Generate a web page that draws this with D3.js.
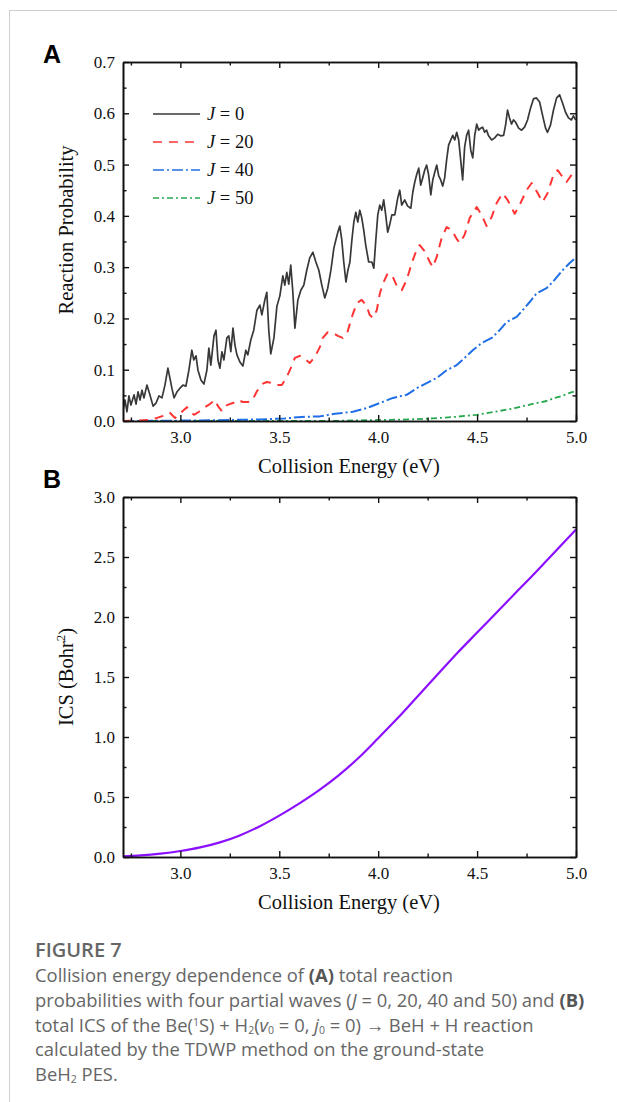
<!DOCTYPE html>
<html>
<head>
<meta charset="utf-8">
<script src="https://cdn.jsdelivr.net/npm/d3@7"></script>
<style>
  body { margin: 0; background: #fff; }
  svg { display: block; }
  .tick text { font-family: "Liberation Serif", "Times New Roman", serif; font-size: 17px; fill: #111; }
  .ax path, .ax line { stroke: #111; }
  .ttl { font-family: "Liberation Serif", "Times New Roman", serif; font-size: 20.5px; fill: #111; }
  .cap { font-family: "Open Sans", "Noto Sans", sans-serif; font-size: 18.4px; fill: #666; }
</style>
</head>
<body>
<script>
// ---- data ----
var xMajor = [3.0, 3.5, 4.0, 4.5, 5.0];
var xMinor = [2.75, 3.25, 3.75, 4.25, 4.75];
var yMajorA = [0, 0.1, 0.2, 0.3, 0.4, 0.5, 0.6, 0.7];
var yMinorA = [0.05, 0.15, 0.25, 0.35, 0.45, 0.55, 0.65];
var yMajorB = [0, 0.5, 1.0, 1.5, 2.0, 2.5, 3.0];
var yMinorB = [0.25, 0.75, 1.25, 1.75, 2.25, 2.75];
var legendLabels = ["0", "20", "40", "50"];

// J = 0
var probJ0 = [
 [2.710,0.021],[2.720,0.041],[2.730,0.018],[2.740,0.049],[2.750,0.031],[2.766,0.051],[2.776,0.033],
 [2.786,0.057],[2.796,0.041],[2.806,0.060],[2.816,0.045],[2.831,0.070],[2.846,0.051],[2.862,0.029],
 [2.877,0.035],[2.892,0.049],[2.907,0.045],[2.922,0.070],[2.937,0.103],[2.947,0.084],[2.957,0.064],
 [2.968,0.045],[2.983,0.057],[2.998,0.064],[3.013,0.070],[3.028,0.068],[3.043,0.099],[3.058,0.138],
 [3.068,0.119],[3.079,0.127],[3.089,0.099],[3.104,0.080],[3.119,0.072],[3.134,0.099],[3.144,0.142],
 [3.154,0.109],[3.170,0.166],[3.180,0.177],[3.190,0.119],[3.200,0.103],[3.210,0.135],[3.220,0.119],
 [3.235,0.162],[3.245,0.166],[3.255,0.135],[3.266,0.181],[3.276,0.148],[3.286,0.129],[3.301,0.115],
 [3.316,0.107],[3.331,0.138],[3.341,0.129],[3.356,0.158],[3.371,0.177],[3.387,0.216],[3.402,0.226],
 [3.412,0.207],[3.427,0.236],[3.437,0.251],[3.447,0.177],[3.457,0.131],[3.473,0.162],[3.488,0.224],
 [3.503,0.244],[3.518,0.283],[3.528,0.265],[3.538,0.290],[3.548,0.267],[3.558,0.304],[3.568,0.255],
 [3.579,0.181],[3.594,0.236],[3.609,0.255],[3.624,0.265],[3.639,0.294],[3.654,0.318],[3.670,0.329],
 [3.685,0.310],[3.700,0.294],[3.715,0.265],[3.730,0.240],[3.745,0.259],[3.761,0.294],[3.776,0.337],
 [3.786,0.353],[3.796,0.368],[3.806,0.380],[3.816,0.353],[3.826,0.310],[3.837,0.271],[3.847,0.294],
 [3.857,0.310],[3.867,0.353],[3.877,0.388],[3.887,0.407],[3.897,0.388],[3.907,0.411],[3.917,0.396],
 [3.927,0.372],[3.937,0.343],[3.952,0.310],[3.968,0.310],[3.978,0.298],[3.988,0.353],[3.998,0.402],
 [4.008,0.421],[4.018,0.411],[4.028,0.431],[4.038,0.402],[4.048,0.368],[4.058,0.382],[4.069,0.402],
 [4.084,0.402],[4.099,0.435],[4.109,0.450],[4.119,0.421],[4.134,0.431],[4.149,0.419],[4.165,0.415],
 [4.175,0.446],[4.185,0.466],[4.195,0.481],[4.205,0.493],[4.215,0.460],[4.225,0.474],[4.235,0.489],
 [4.245,0.499],[4.255,0.480],[4.266,0.441],[4.276,0.470],[4.286,0.485],[4.296,0.499],[4.306,0.478],
 [4.316,0.470],[4.326,0.458],[4.336,0.474],[4.346,0.509],[4.356,0.538],[4.367,0.548],[4.377,0.557],
 [4.387,0.548],[4.397,0.563],[4.407,0.548],[4.417,0.509],[4.427,0.470],[4.437,0.534],[4.447,0.557],
 [4.457,0.567],[4.468,0.528],[4.478,0.513],[4.488,0.557],[4.498,0.579],[4.508,0.567],[4.518,0.571],
 [4.528,0.573],[4.538,0.563],[4.548,0.567],[4.558,0.556],[4.574,0.548],[4.589,0.552],[4.604,0.559],
 [4.619,0.556],[4.634,0.557],[4.644,0.577],[4.654,0.606],[4.664,0.591],[4.674,0.579],[4.684,0.587],
 [4.694,0.583],[4.710,0.571],[4.725,0.567],[4.740,0.573],[4.755,0.587],[4.770,0.610],[4.785,0.628],
 [4.800,0.630],[4.816,0.622],[4.831,0.596],[4.846,0.571],[4.856,0.563],[4.871,0.577],[4.886,0.606],
 [4.902,0.630],[4.917,0.636],[4.932,0.620],[4.947,0.602],[4.962,0.591],[4.977,0.587],[4.987,0.595],
 [4.998,0.587]
];

// J = 20
var probJ20 = [
 [2.710,0.000],[2.846,0.002],[2.882,0.006],[2.912,0.010],[2.947,0.016],[2.973,0.006],[2.988,0.010],
 [3.008,0.018],[3.033,0.027],[3.048,0.019],[3.069,0.012],[3.094,0.018],[3.124,0.027],[3.149,0.033],
 [3.175,0.041],[3.190,0.029],[3.210,0.019],[3.235,0.031],[3.266,0.035],[3.291,0.041],[3.316,0.037],
 [3.341,0.037],[3.362,0.039],[3.387,0.058],[3.412,0.072],[3.437,0.076],[3.463,0.074],[3.488,0.070],
 [3.513,0.070],[3.538,0.086],[3.558,0.103],[3.579,0.123],[3.604,0.127],[3.629,0.121],[3.654,0.113],
 [3.680,0.125],[3.705,0.144],[3.720,0.162],[3.745,0.173],[3.771,0.172],[3.796,0.166],[3.821,0.162],
 [3.846,0.175],[3.867,0.203],[3.892,0.230],[3.917,0.236],[3.942,0.224],[3.957,0.207],[3.973,0.201],
 [3.993,0.216],[4.008,0.248],[4.023,0.267],[4.048,0.288],[4.074,0.281],[4.099,0.259],[4.119,0.255],
 [4.144,0.275],[4.170,0.308],[4.195,0.335],[4.210,0.343],[4.235,0.331],[4.261,0.310],[4.276,0.300],
 [4.296,0.320],[4.321,0.357],[4.346,0.378],[4.372,0.372],[4.397,0.355],[4.412,0.347],[4.437,0.363],
 [4.463,0.396],[4.498,0.417],[4.523,0.402],[4.548,0.380],[4.574,0.398],[4.599,0.425],[4.629,0.444],
 [4.654,0.431],[4.690,0.404],[4.715,0.421],[4.750,0.450],[4.776,0.464],[4.801,0.448],[4.831,0.427],
 [4.856,0.444],[4.887,0.481],[4.907,0.489],[4.932,0.476],[4.952,0.466],[4.978,0.480],[4.998,0.485]
];

// J = 40
var probJ40 = [
 [2.710,0.000],[3.099,0.001],[3.402,0.003],[3.528,0.005],[3.614,0.008],[3.705,0.009],[3.781,0.014],
 [3.872,0.018],[3.942,0.025],[4.008,0.035],[4.074,0.045],[4.144,0.051],[4.195,0.064],[4.245,0.074],
 [4.296,0.084],[4.346,0.099],[4.397,0.109],[4.437,0.123],[4.478,0.138],[4.523,0.152],[4.574,0.162],
 [4.614,0.177],[4.649,0.193],[4.700,0.203],[4.730,0.216],[4.766,0.232],[4.801,0.249],[4.851,0.259],
 [4.882,0.271],[4.932,0.294],[4.968,0.308],[4.998,0.318]
];

// J = 50
var probJ50 = [
 [2.710,0.000],[3.755,0.000],[3.998,0.002],[4.159,0.003],[4.276,0.005],[4.387,0.008],[4.498,0.012],
 [4.604,0.019],[4.690,0.025],[4.776,0.033],[4.851,0.039],[4.892,0.045],[4.932,0.049],[4.968,0.055],
 [4.998,0.058]
];

// total ICS (Bohr^2)
var icsVals = [
 [2.71,0.005],[2.80,0.013],[2.90,0.028],[3.00,0.050],[3.10,0.080],[3.20,0.122],[3.30,0.180],
 [3.40,0.255],[3.50,0.345],[3.60,0.445],[3.70,0.555],[3.80,0.680],[3.90,0.825],[4.00,0.990],
 [4.10,1.160],[4.20,1.340],[4.30,1.520],[4.40,1.700],[4.50,1.870],[4.60,2.040],[4.70,2.210],
 [4.80,2.380],[4.90,2.555],[5.00,2.730]
];

var W = 617, H = 1102;
var svg = d3.select("body").append("svg").attr("width", W).attr("height", H);
svg.append("rect").attr("width", W).attr("height", H).attr("fill", "#fff");

// page border
svg.append("line").attr("x1", 9.5).attr("x2", 9.5).attr("y1", 10).attr("y2", H).attr("stroke", "#cfcfcf");
svg.append("line").attr("x1", 9.5).attr("x2", W).attr("y1", 10.5).attr("y2", 10.5).attr("stroke", "#cfcfcf");

var series = [
  {data: probJ0, color: "#383838", width: 1.7, dash: null},
  {data: probJ20, color: "#ff3535", width: 2, dash: "9,7"},
  {data: probJ40, color: "#1f6fe6", width: 2, dash: "11,3,2,3"},
  {data: probJ50, color: "#27a84f", width: 1.8, dash: "6,3,2,3"}
];

function drawFrame(x, y, yMajor, yMinor, fmt) {
  var x0 = x.range()[0], x1 = x.range()[1], y0 = y.range()[0], y1 = y.range()[1];
  var g = svg.append("g").attr("class", "ax");
  g.append("g").attr("transform", "translate(0," + y0 + ")")
    .call(d3.axisBottom(x).tickValues(xMajor).tickFormat(d3.format(".1f")).tickSizeInner(-6).tickSizeOuter(0).tickPadding(10));
  g.append("g").attr("transform", "translate(0," + y0 + ")")
    .call(d3.axisBottom(x).tickValues(xMinor).tickFormat("").tickSizeInner(-3.5).tickSizeOuter(0));
  g.append("g").attr("transform", "translate(0," + y1 + ")")
    .call(d3.axisTop(x).tickValues(xMajor).tickFormat("").tickSizeInner(-6).tickSizeOuter(0));
  g.append("g").attr("transform", "translate(0," + y1 + ")")
    .call(d3.axisTop(x).tickValues(xMinor).tickFormat("").tickSizeInner(-3.5).tickSizeOuter(0));
  g.append("g").attr("transform", "translate(" + x0 + ",0)")
    .call(d3.axisLeft(y).tickValues(yMajor).tickFormat(fmt).tickSizeInner(-6).tickSizeOuter(0).tickPadding(8));
  g.append("g").attr("transform", "translate(" + x0 + ",0)")
    .call(d3.axisLeft(y).tickValues(yMinor).tickFormat("").tickSizeInner(-3.5).tickSizeOuter(0));
  g.append("g").attr("transform", "translate(" + x1 + ",0)")
    .call(d3.axisRight(y).tickValues(yMajor).tickFormat("").tickSizeInner(-6).tickSizeOuter(0));
  g.append("g").attr("transform", "translate(" + x1 + ",0)")
    .call(d3.axisRight(y).tickValues(yMinor).tickFormat("").tickSizeInner(-3.5).tickSizeOuter(0));
  g.selectAll("path.domain").attr("stroke-width", 1.6);
  g.selectAll(".tick line").attr("stroke-width", 1.4);
  g.selectAll("g").attr("font-size", null).attr("font-family", null);
  return g;
}

// ---------- panel A ----------
var xA = d3.scaleLinear().domain([2.71, 5.0]).range([123, 576]);
var yA = d3.scaleLinear().domain([0, 0.7]).range([421, 62]);

var lineA = d3.line().x(function(d){ return xA(d[0]); }).y(function(d){ return yA(d[1]); });
svg.append("clipPath").attr("id", "clipA").append("rect")
  .attr("x", 123).attr("y", 62).attr("width", 453).attr("height", 359);

var gA = svg.append("g").attr("clip-path", "url(#clipA)");
series.slice().reverse().forEach(function(s){
  gA.append("path").attr("d", lineA(s.data)).attr("fill", "none")
    .attr("stroke", s.color).attr("stroke-width", s.width)
    .attr("stroke-dasharray", s.dash).attr("stroke-linejoin", "round");
});
drawFrame(xA, yA, yMajorA, yMinorA, d3.format(".1f"));

// legend
var leg = svg.append("g");
series.forEach(function(s, i){
  var yy = 114 + i * 28;
  leg.append("line").attr("x1", 153).attr("x2", 200).attr("y1", yy).attr("y2", yy)
    .attr("stroke", s.color).attr("stroke-width", s.width - 0.3).attr("stroke-dasharray", s.dash);
  var t = leg.append("text").attr("class", "ttl").attr("x", 207).attr("y", yy + 6).style("font-size", "18.5px");
  t.append("tspan").attr("font-style", "italic").text("J");
  t.append("tspan").text(" = " + legendLabels[i]);
});

svg.append("text").attr("class", "ttl").attr("text-anchor", "middle")
  .attr("transform", "translate(73,230) rotate(-90)").text("Reaction Probability");
svg.append("text").attr("class", "ttl").attr("text-anchor", "middle")
  .attr("x", 349).attr("y", 473).text("Collision Energy (eV)");
svg.append("text").attr("x", 43).attr("y", 63).attr("font-family", "Liberation Sans, Arial, sans-serif")
  .attr("font-weight", "bold").attr("font-size", 25).text("A");

// ---------- panel B ----------
var xB = d3.scaleLinear().domain([2.71, 5.0]).range([123, 576]);
var yB = d3.scaleLinear().domain([0, 3.0]).range([857, 497]);
var lineB = d3.line().curve(d3.curveMonotoneX)
  .x(function(d){ return xB(d[0]); }).y(function(d){ return yB(d[1]); });
svg.append("path").attr("d", lineB(icsVals)).attr("fill", "none")
  .attr("stroke", "#8a10ff").attr("stroke-width", 2.2);
drawFrame(xB, yB, yMajorB, yMinorB, d3.format(".1f"));

var tB = svg.append("text").attr("class", "ttl").attr("text-anchor", "middle")
  .attr("transform", "translate(73,677) rotate(-90)");
tB.append("tspan").text("ICS (Bohr");
tB.append("tspan").attr("dy", -8).style("font-size", "13px").text("2");
tB.append("tspan").attr("dy", 8).text(")");
svg.append("text").attr("class", "ttl").attr("text-anchor", "middle")
  .attr("x", 349).attr("y", 909).text("Collision Energy (eV)");
svg.append("text").attr("x", 43).attr("y", 488).attr("font-family", "Liberation Sans, Arial, sans-serif")
  .attr("font-weight", "bold").attr("font-size", 25).text("B");

// ---------- caption ----------
svg.append("text").attr("class", "cap").attr("x", 35).attr("y", 957)
  .attr("font-weight", 600).attr("fill", "#555").style("font-size", "20px").text("FIGURE 7");

var capLines = [
  [["Collision energy dependence of ", ""], ["(A)", "b"], [" total reaction", ""]],
  [["probabilities with four partial waves (", ""], ["J", "i"], [" = 0, 20, 40 and 50) and ", ""], ["(B)", "b"]],
  [["total ICS of the Be(", ""], ["1", "sup"], ["S) + H", ""], ["2", "sub"], ["(", ""], ["v", "i"], ["0", "sub"],
   [" = 0, ", ""], ["j", "i"], ["0", "sub"], [" = 0) \u2192 BeH + H reaction", ""]],
  [["calculated by the TDWP method on the ground-state", ""]],
  [["BeH", ""], ["2", "sub"], [" PES.", ""]]
];
capLines.forEach(function(parts, i){
  var t = svg.append("text").attr("class", "cap").attr("x", 35).attr("y", 982 + i * 24.8);
  var shift = 0;
  parts.forEach(function(p){
    var sp = t.append("tspan").text(p[0]);
    var want = 0;
    if (p[1] === "b") sp.attr("font-weight", "bold").attr("fill", "#555");
    if (p[1] === "i") sp.attr("font-style", "italic");
    if (p[1] === "sub") { want = 2; sp.style("font-size", "10.5px"); }
    if (p[1] === "sup") { want = -6; sp.style("font-size", "10.5px"); }
    if (want !== shift) { sp.attr("dy", want - shift); shift = want; }
  });
});
</script>
</body>
</html>
